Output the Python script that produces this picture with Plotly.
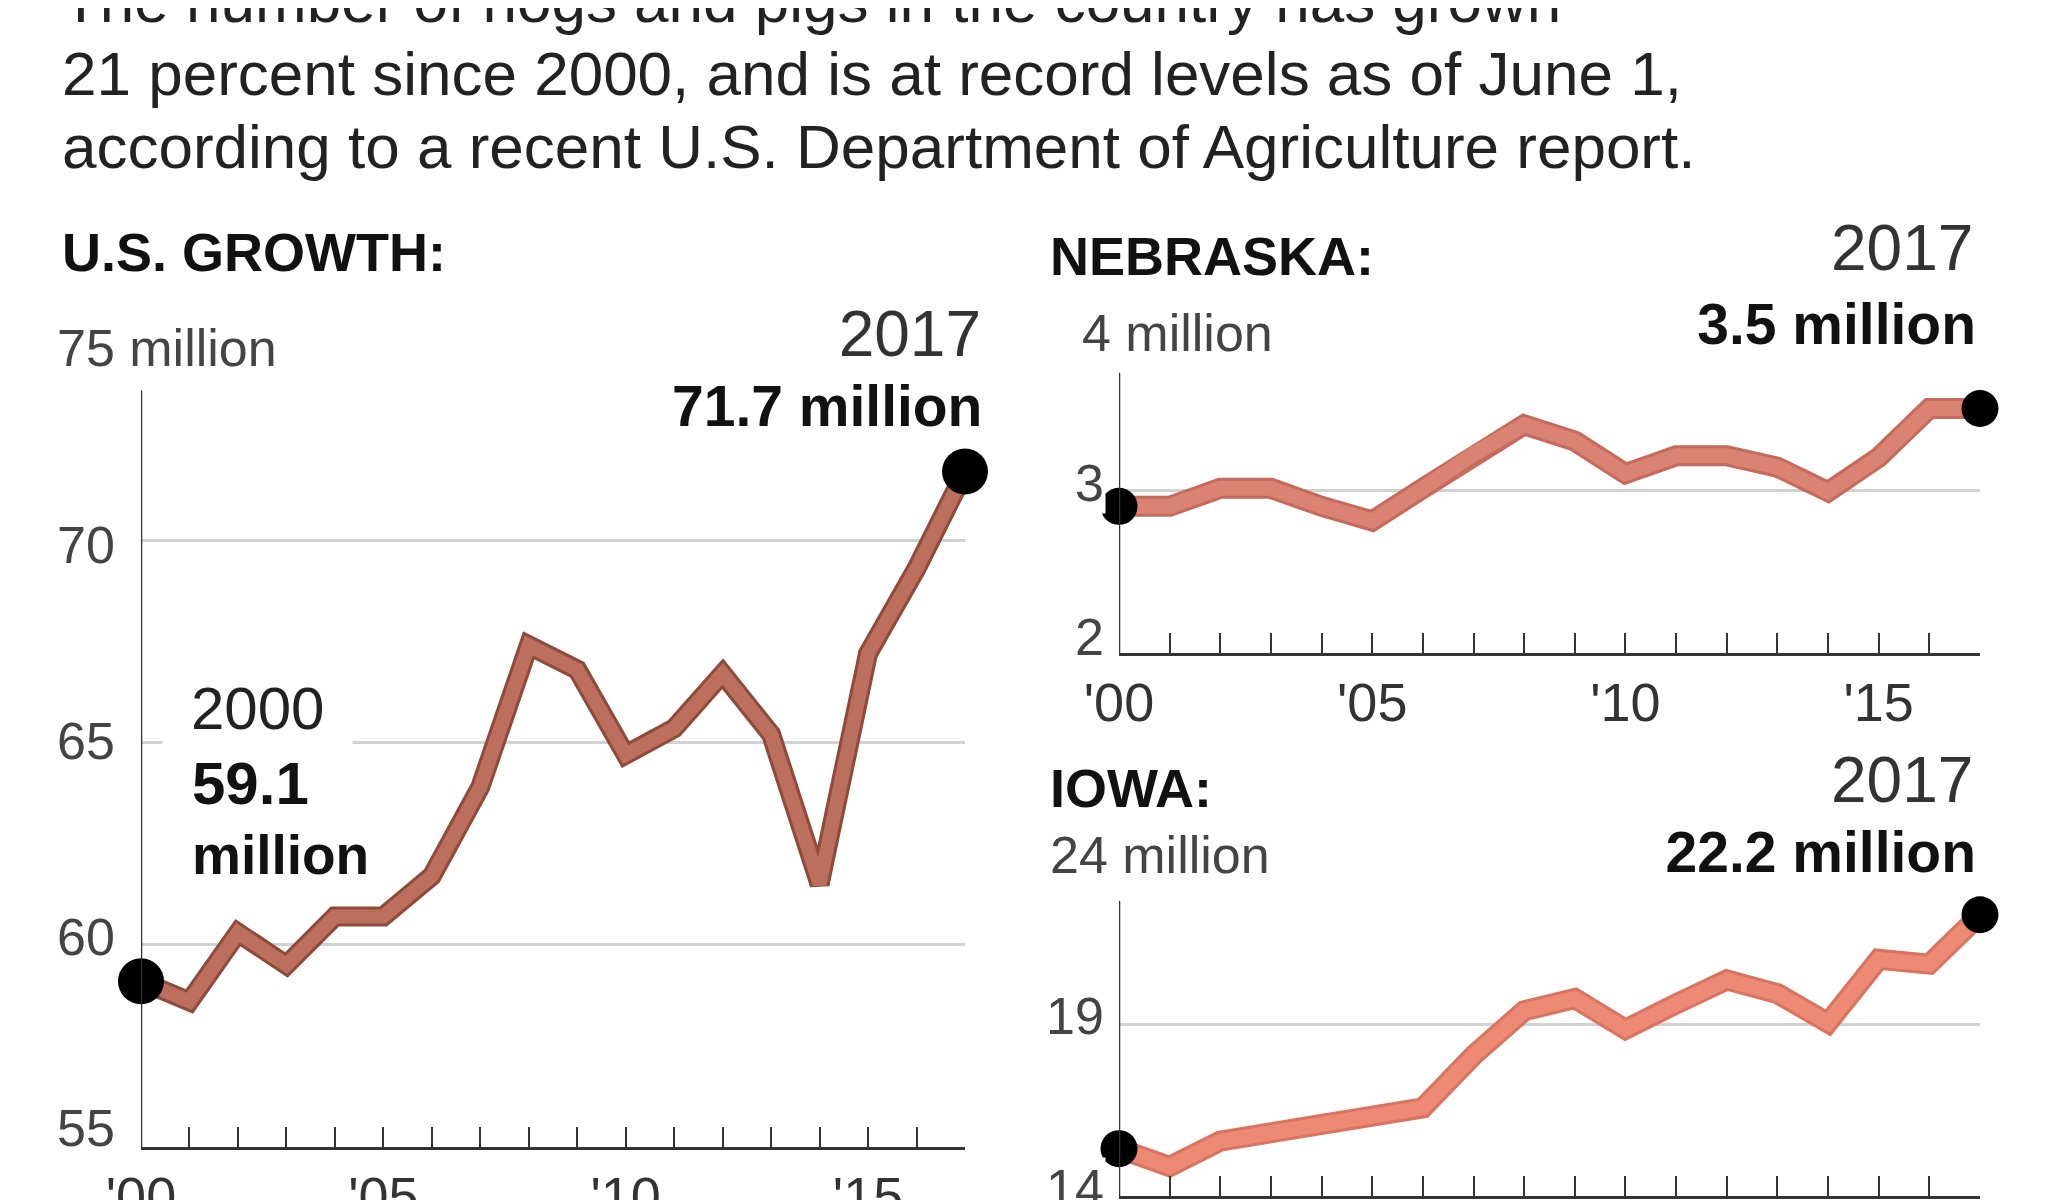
import plotly.graph_objects as go

W, H = 2048, 1200
OFF = 8  # page body margin around the plot div
FONT = "Liberation Sans, Arial, sans-serif"

YEARS = list(range(2000, 2018))
US_HOGS = [59.1, 58.6, 60.3, 59.5, 60.7, 60.7, 61.7, 63.9, 67.4, 66.8,
           64.7, 65.35, 66.7, 65.2, 61.5, 67.2, 69.3, 71.7]
NE_HOGS = [2.9, 2.9, 3.01, 3.01, 2.9, 2.81, 3.01, 3.22, 3.4, 3.3,
           3.1, 3.21, 3.21, 3.14, 2.99, 3.2, 3.5, 3.5]
IA_HOGS = [15.38, 14.86, 15.6, 15.86, 16.1, 16.3, 16.57, 18.1, 19.4, 19.76,
           18.86, 19.6, 20.3, 19.9, 19.05, 20.9, 20.76, 22.2]

US_TICKS = [55, 60, 65, 70, 75]
NE_TICKS = [2, 3, 4]
IA_TICKS = [14, 19, 24]
X_TICKTEXT = ["'00", "", "", "", "", "'05", "", "", "", "", "'10", "", "", "", "", "'15", "", ""]

HEADLINE = [
    "The number of hogs and pigs in the country has grown",
    "21 percent since 2000, and is at record levels as of June 1,",
    "according to a recent U.S. Department of Agriculture report.",
]

US_DARK, US_LIGHT = "#8e4a3b", "#bd6f5d"
NE_DARK, NE_LIGHT = "#c66a5b", "#da8372"
IA_DARK, IA_LIGHT = "#da735f", "#ec8a75"
GRID = "#d2d2d2"
AXIS = "#333333"


def px(x):
    return (x - OFF) / W


def py(y):
    return 1 - (y - OFF) / H


fig = go.Figure()


def add_series(xa, ya, values, dark, light, width, dot):
    fig.add_trace(go.Scatter(x=YEARS, y=values, xaxis=xa, yaxis=ya, mode="lines",
                             line=dict(color=dark, width=width), hoverinfo="skip",
                             showlegend=False, cliponaxis=False))
    fig.add_trace(go.Scatter(x=YEARS, y=values, xaxis=xa, yaxis=ya, mode="lines",
                             line=dict(color=light, width=width - 6),
                             showlegend=False, cliponaxis=False,
                             hovertemplate="%{x}: %{y} million<extra></extra>"))
    fig.add_trace(go.Scatter(x=[YEARS[0], YEARS[-1]], y=[values[0], values[-1]],
                             xaxis=xa, yaxis=ya, mode="markers",
                             marker=dict(color="black", size=dot), showlegend=False,
                             cliponaxis=False, hoverinfo="skip"))


add_series("x", "y", US_HOGS, US_DARK, US_LIGHT, 20, 46)
add_series("x2", "y2", NE_HOGS, NE_DARK, NE_LIGHT, 21, 37)
add_series("x3", "y3", IA_HOGS, IA_DARK, IA_LIGHT, 21, 37)

xcommon = dict(
    range=[2000, 2017], showgrid=False, zeroline=False, showline=True, automargin=False,
    linecolor=AXIS, linewidth=2.5, ticks="inside", ticklen=20, tickwidth=2,
    tickcolor=AXIS, tickvals=YEARS, ticktext=X_TICKTEXT,
    tickfont=dict(family=FONT, size=54, color="#333"), ticklabelstandoff=0,
)
ycommon = dict(
    showgrid=True, gridcolor=GRID, gridwidth=3, zeroline=False, showline=False,
    showticklabels=False, ticks="", automargin=False,
)

fig.update_layout(
    width=W, height=H,
    margin=dict(l=0, r=0, t=0, b=0, pad=0),
    paper_bgcolor="white", plot_bgcolor="white",
    font=dict(family=FONT, color="#222"),
    xaxis=dict(domain=[px(141), px(965)], anchor="y", **xcommon),
    yaxis=dict(domain=[py(1147), py(338)], anchor="x", range=[55, 75],
               tickvals=US_TICKS, **ycommon),
    xaxis2=dict(domain=[px(1119), px(1980)], anchor="y2", **xcommon),
    yaxis2=dict(domain=[py(653), py(327)], anchor="x2", range=[2, 4],
                tickvals=NE_TICKS, **ycommon),
    xaxis3=dict(domain=[px(1119), px(1980)], anchor="y3", **xcommon),
    yaxis3=dict(domain=[py(1196), py(853)], anchor="x3", range=[14, 24],
                tickvals=IA_TICKS, **ycommon),
)

# vertical axis lines, stopping below the top gridline
for xr, yr, lo, hi in [("x", "y", 55, 73.7), ("x2", "y2", 2, 3.72), ("x3", "y3", 14, 22.6)]:
    fig.add_shape(type="line", xref=xr, yref=yr, x0=2000, x1=2000, y0=lo, y1=hi,
                  line=dict(color="#333", width=2.5), layer="above")

ann = []

# headline
for i, line in enumerate(HEADLINE):
    ann.append(dict(text=line, x=px(60), y=py(0 + 73 * i), xanchor="left", yanchor="middle",
                    font=dict(size=62, color="#222")))

# section titles
for txt, x, y in [("<b>U.S. GROWTH:</b>", 60, 252), ("<b>NEBRASKA:</b>", 1048, 256),
                  ("<b>IOWA:</b>", 1048, 788)]:
    ann.append(dict(text=txt, x=px(x), y=py(y), xanchor="left", yanchor="middle",
                    font=dict(size=54, color="#111")))

# y tick labels (top one carries the unit and masks the gridline)
for v in US_TICKS:
    shift = {75: -10, 70: -5, 65: 2, 60: 8, 55: 19}[v]
    a = dict(text=str(v), x=px(55), y=v, yref="y", xanchor="left", yanchor="middle",
             yshift=shift, font=dict(size=52, color="#444"), bgcolor="white")
    if v == US_TICKS[-1]:
        a.update(text=f"{v} million", width=240, align="left")
    ann.append(a)
for ticks, yr, left, shifts, w in [(NE_TICKS, "y2", 1080, [16, 7, -6], 204),
                                   (IA_TICKS, "y3", 1048, [8, 9, -2], 236)]:
    for v, s in zip(ticks, shifts):
        a = dict(text=str(v), x=px(1106), y=v, yref=yr, xanchor="right", yanchor="middle",
                 yshift=s, font=dict(size=52, color="#444"), bgcolor="white")
        if v == ticks[-1]:
            a.update(text=f"{v} million", x=px(left), xanchor="left", width=w, align="left")
        ann.append(a)

# end labels
ann += [
    dict(text="2017", x=px(983), y=py(334), xanchor="right", yanchor="middle", width=257,
         align="right", font=dict(size=64, color="#333"), bgcolor="white"),
    dict(text=f"<b>{US_HOGS[-1]} million</b>", x=px(984), y=py(406), xanchor="right",
         yanchor="middle", font=dict(size=57, color="#111")),
    dict(text="2017", x=px(1975), y=py(248), xanchor="right", yanchor="middle",
         font=dict(size=64, color="#333")),
    dict(text=f"<b>{NE_HOGS[-1]} million</b>", x=px(1978), y=py(324), xanchor="right",
         yanchor="middle", font=dict(size=57, color="#111"), bgcolor="white",
         width=292, align="right"),
    dict(text="2017", x=px(1975), y=py(780), xanchor="right", yanchor="middle",
         font=dict(size=64, color="#333")),
    dict(text=f"<b>{IA_HOGS[-1]} million</b>", x=px(1978), y=py(852), xanchor="right",
         yanchor="middle", font=dict(size=57, color="#111"), bgcolor="white",
         width=335, align="right"),
]

# start label for U.S. ("2000" box masks the 65 gridline)
ann.append(dict(text="2000", x=px(162), y=py(709), xanchor="left", yanchor="middle",
                font=dict(size=60, color="#222"), bgcolor="white", borderpad=28))
for txt, y, size in [(f"<b>{US_HOGS[0]}</b>", 784, 60), ("<b>million</b>", 855, 55)]:
    ann.append(dict(text=txt, x=px(190), y=py(y), xanchor="left", yanchor="middle",
                    font=dict(size=size, color="#111")))

for a in ann:
    a.setdefault("xref", "paper")
    a.setdefault("yref", "paper")
    a.setdefault("showarrow", False)
    fig.add_annotation(**a)

fig.write_html("out.html")
